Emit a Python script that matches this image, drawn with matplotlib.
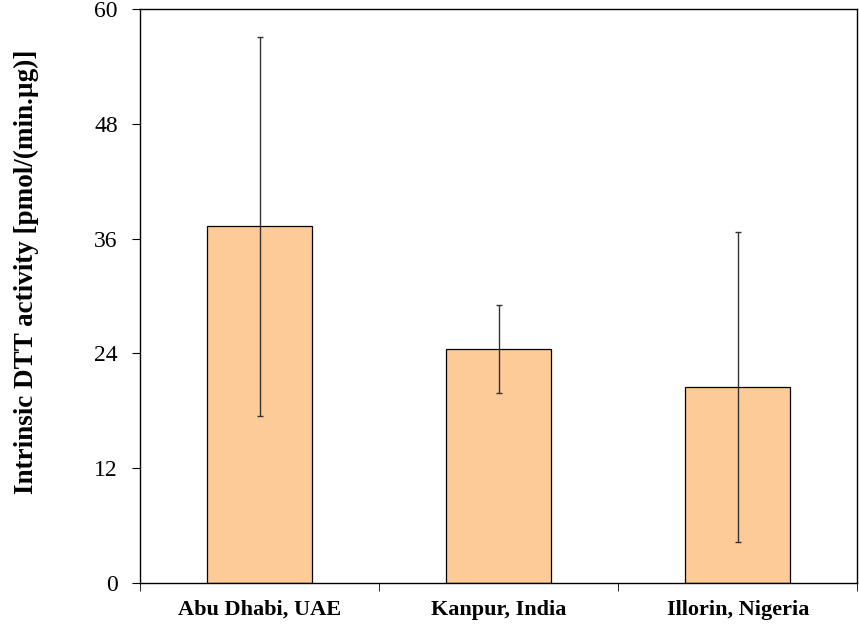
import matplotlib
matplotlib.use("Agg")
from matplotlib import pyplot as plt
from matplotlib.ticker import FixedLocator

sites = ["Abu Dhabi, UAE", "Kanpur, India", "Illorin, Nigeria"]
dtt = [37.3, 24.5, 20.5]
dtt_err = [19.8, 4.6, 16.2]

plt.rcParams["font.family"] = ["Liberation Serif", "DejaVu Serif"]

fig = plt.figure(figsize=(8.59, 6.27), dpi=100)
ax = fig.add_axes([0.163, 0.070, 0.835, 0.916])

x = range(len(sites))
ax.bar(x, dtt, width=0.44, color="#fdcb98", edgecolor="black", linewidth=0.9, zorder=2)
ax.errorbar(x, dtt, yerr=dtt_err, fmt="none", ecolor="#333333", elinewidth=1.0,
            capsize=2, capthick=1.0, zorder=3)

ax.set_xlim(-0.5, 2.5)
ax.set_ylim(0, 60)
ax.set_yticks([0, 12, 24, 36, 48, 60])
ax.set_xticks(list(x))
ax.set_xticklabels(sites, fontsize=16, fontweight="bold")
ax.xaxis.set_minor_locator(FixedLocator([-0.5, 0.5, 1.5, 2.5]))
ax.tick_params(axis="x", which="major", length=0, pad=12)
ax.tick_params(axis="x", which="minor", length=6, direction="out")
ax.tick_params(axis="y", labelsize=17, length=6, direction="out", pad=10)
ax.set_ylabel("Intrinsic DTT activity [pmol/(min.µg)]", fontsize=19.5, fontweight="bold", va="center")
ax.yaxis.set_label_coords(-0.158, 0.542)

for s in ax.spines.values():
    s.set_linewidth(1.0)

fig.savefig("out.png", dpi=100)
